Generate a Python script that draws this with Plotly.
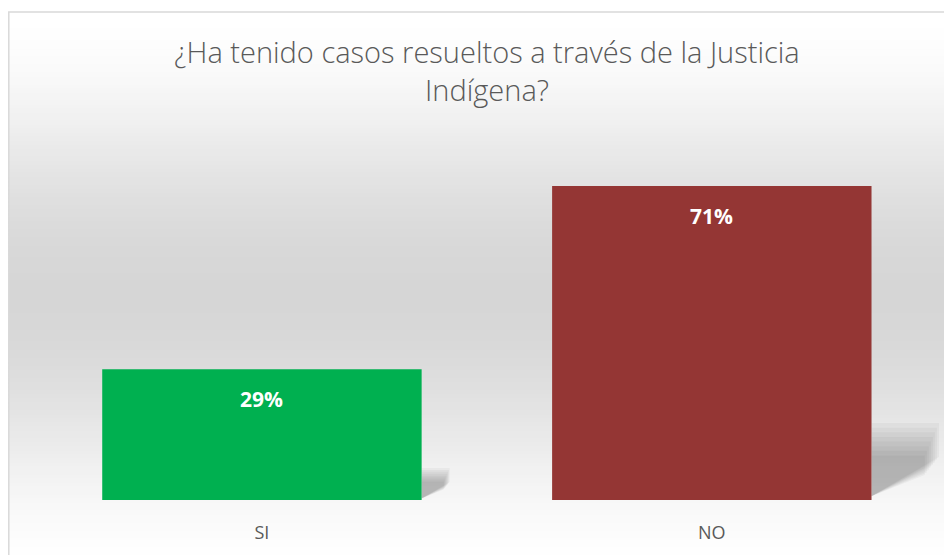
import math
import plotly.graph_objects as go

categories = ["SI", "NO"]
values = [0.294, 0.706]
labels = ["29%", "71%"]
bar_colors = ["#00B050", "#943634"]
title_text = "¿Ha tenido casos resueltos a través de la Justicia<br>Indígena?"

W, H = 952, 555
OFF = 8  # page body margin offset
L, R, T, B = 37 - OFF, 13 + OFF, 130 - OFF, 55 + OFF
PW, PH = W - L - R, H - T - B
YMAX = 0.832
BARGAP = 0.29


def px_x(px):
    return (px - OFF - L) / PW


def px_y(py):
    return (H - B - (py - OFF)) / PH


fig = go.Figure()
fig.add_trace(go.Bar(
    x=categories, y=values,
    marker=dict(color=bar_colors, line=dict(width=0)),
    hoverinfo="skip",
))

shapes = []
# background gradient (white -> light gray -> white)
top_px, bot_px = 12, 575
n = 140
for i in range(n):
    y0p = top_px + (bot_px - top_px) * i / n
    y1p = top_px + (bot_px - top_px) * (i + 1) / n + 2.5
    t = (i + 0.5) / n
    d = math.sin(math.pi * t) ** 1.8
    g = round(255 - (255 - 214) * d)
    shapes.append(dict(type="rect", xref="paper", yref="paper",
                       x0=px_x(8.5), x1=px_x(970), y0=px_y(min(y1p, bot_px)), y1=px_y(y0p),
                       fillcolor=f"rgb({g},{g},{g})", line=dict(width=0),
                       layer="below"))
# chart border
shapes.append(dict(type="rect", xref="paper", yref="paper",
                   x0=px_x(8.8), x1=px_x(990), y0=px_y(590), y1=px_y(12),
                   line=dict(color="#D9D9D9", width=1.5), fillcolor="rgba(0,0,0,0)",
                   layer="below"))

# perspective shadows behind bars (soft, layered)
half = (1 - BARGAP) / 2
for i, v in enumerate(values):
    r = i + half
    w = 0.15 * v / max(values)
    steps = 8
    for k in range(steps):
        sc = 1.0 - 0.06 * k
        ws = w * (1.0 - 0.03 * k)
        path = (f"M {r},{0.245 * v * sc} L {r + ws},{0.245 * v * sc} "
                f"L {r + ws},{0.137 * v * sc} L {r},{0.012 * v} Z")
        shapes.append(dict(type="path", xref="x", yref="y", path=path,
                           fillcolor="rgba(0,0,0,0.035)", line=dict(width=0),
                           layer="below"))

annotations = []
for c, v, lab in zip(categories, values, labels):
    annotations.append(dict(x=c, y=v, xref="x", yref="y", text=f"<b>{lab}</b>",
                            showarrow=False, yanchor="top", yshift=-14,
                            font=dict(family="Open Sans", size=21, color="white")))

fig.update_layout(
    width=W, height=H,
    margin=dict(l=L, r=R, t=T, b=B),
    paper_bgcolor="white", plot_bgcolor="rgba(0,0,0,0)",
    bargap=BARGAP,
    showlegend=False,
    title=dict(text=title_text, x=(487 - OFF) / W, xanchor="center",
               y=1 - 55 / H, yanchor="top",
               font=dict(family="Open Sans", size=29, color="#595959", weight=300)),
    xaxis=dict(showgrid=False, zeroline=False, showline=False,
               ticks="outside", ticklen=16, tickcolor="rgba(0,0,0,0)",
               tickfont=dict(family="Open Sans", size=18, color="#595959")),
    yaxis=dict(range=[0, YMAX], visible=False),
    shapes=shapes,
    annotations=annotations,
)

fig.write_html("out.html")
